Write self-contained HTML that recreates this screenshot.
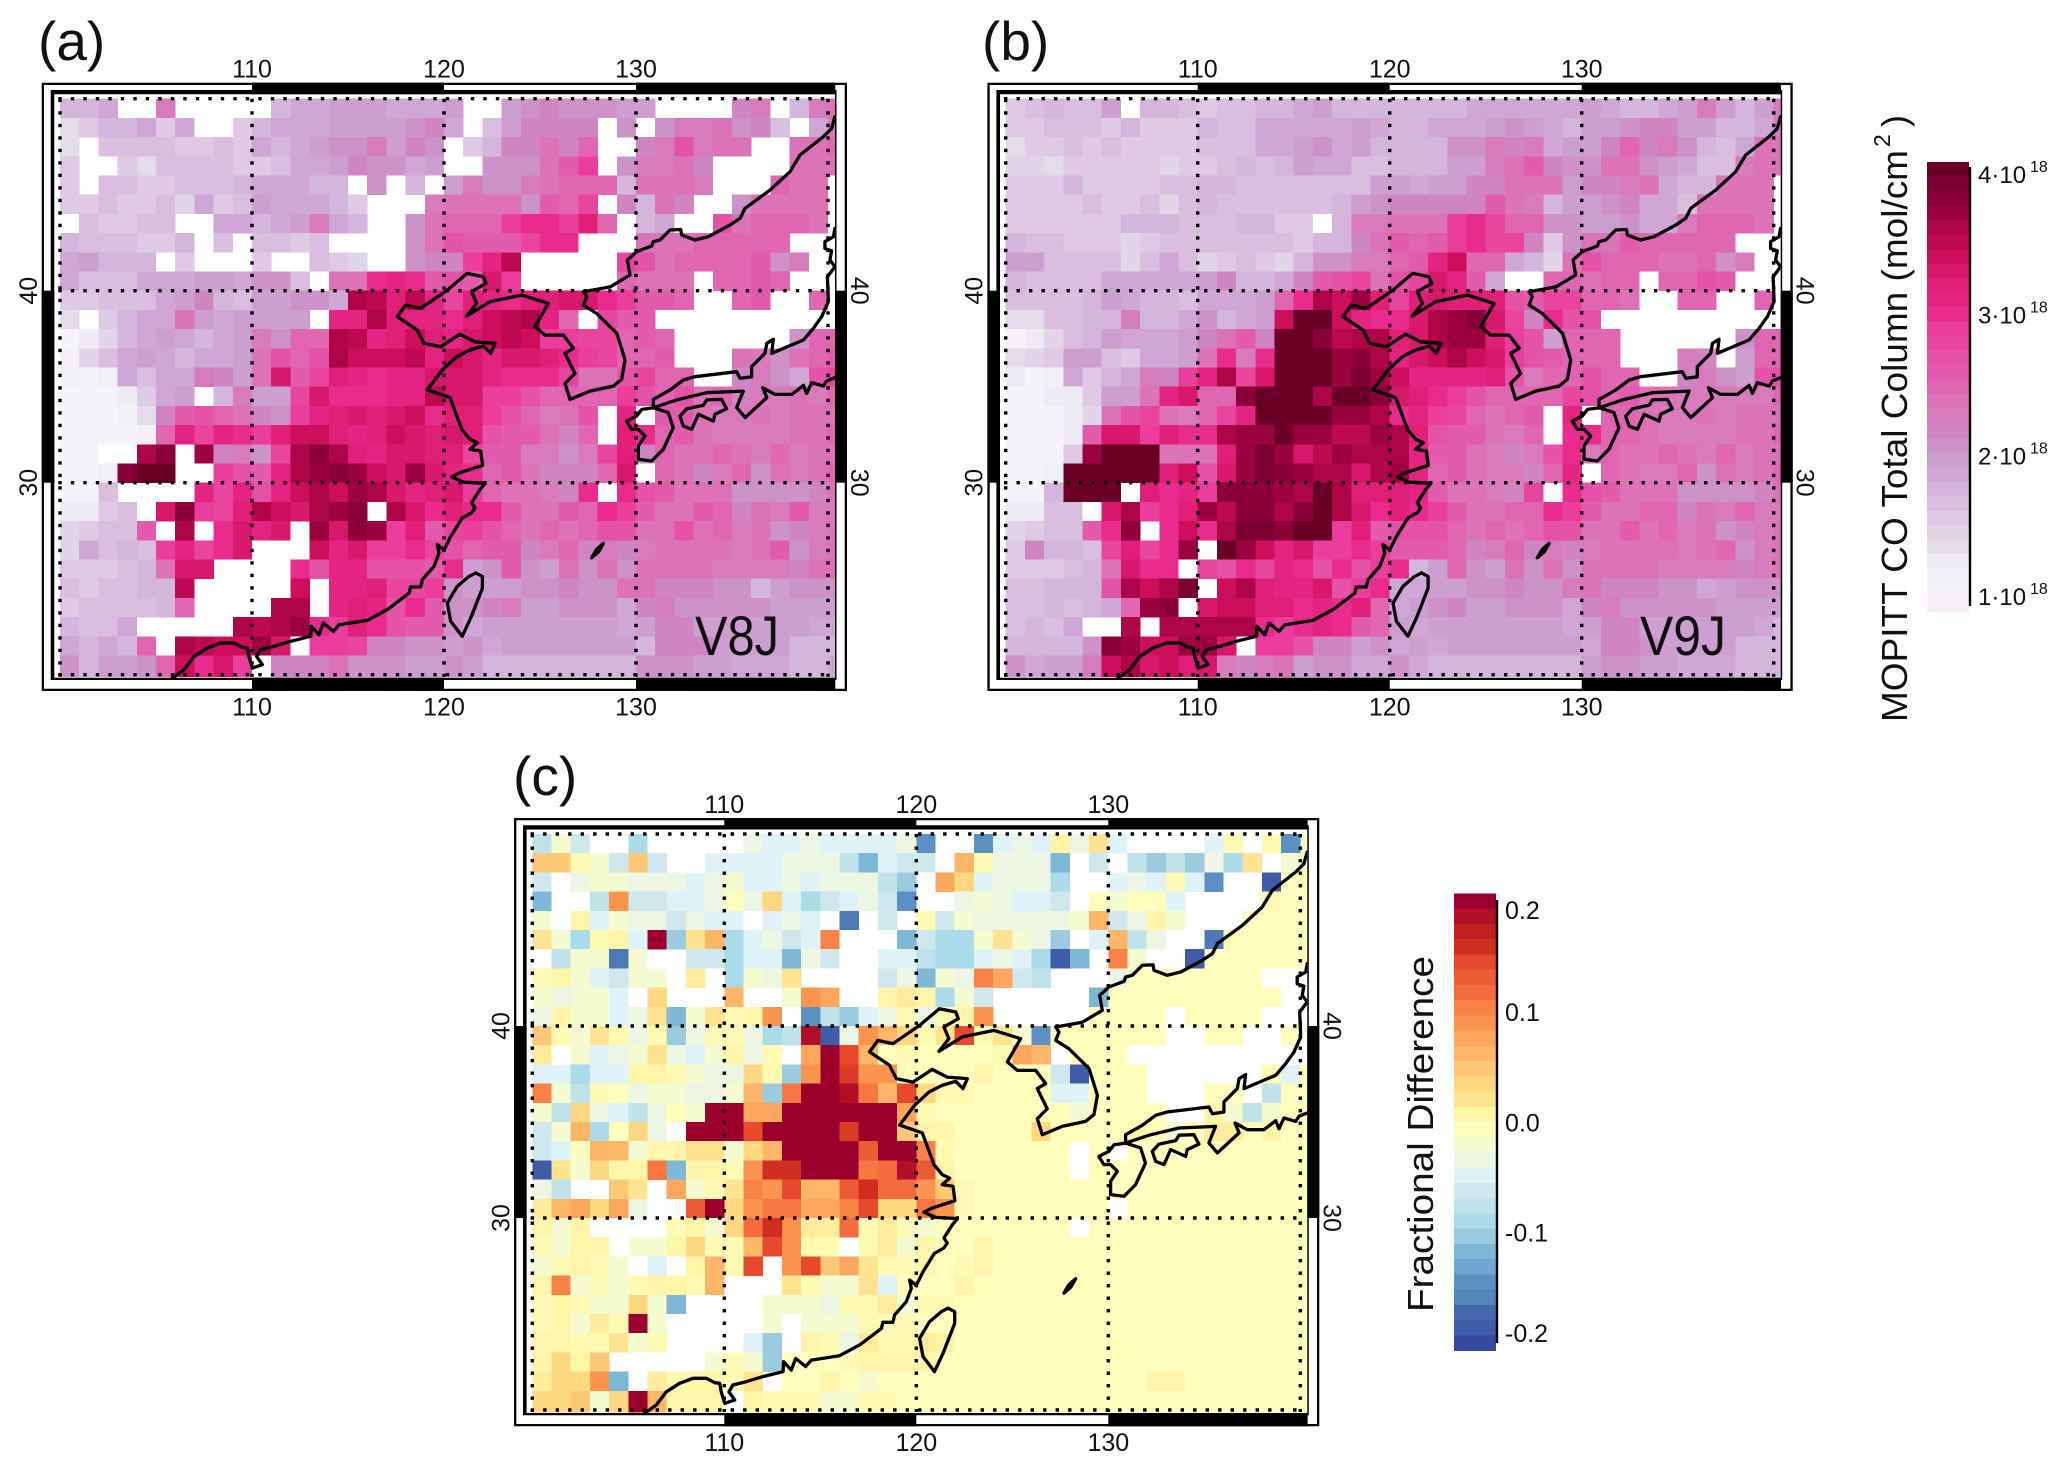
<!DOCTYPE html>
<html lang="en">
<head>
<meta charset="utf-8">
<title>MOPITT CO Total Column maps</title>
<style>
html,body{margin:0;padding:0;background:#fff;}
svg{display:block;font-family:"Liberation Sans",sans-serif;}
text{fill:#111;}
</style>
</head>
<body>
<svg id="figure" xmlns="http://www.w3.org/2000/svg" width="2067" height="1468" viewBox="0 0 2067 1468">
<rect x="0" y="0" width="2067" height="1468" fill="#ffffff"/>
<text x="38" y="60" font-size="55">(a)</text>
<text x="982" y="60" font-size="55">(b)</text>
<text x="513" y="795" font-size="55">(c)</text>
<g id="panels"></g>
<text x="695" y="655" font-size="56" textLength="84" lengthAdjust="spacingAndGlyphs">V8J</text>
<text x="1640" y="655" font-size="56" textLength="86" lengthAdjust="spacingAndGlyphs">V9J</text>
<g id="colorbar-column"></g>
<text transform="translate(1907,722) rotate(-90)" font-size="36" textLength="572" lengthAdjust="spacingAndGlyphs">MOPITT CO Total Column (mol/cm</text>
<text transform="translate(1890,147) rotate(-90)" font-size="23">2</text>
<text transform="translate(1907,127) rotate(-90)" font-size="36">)</text>
<g id="colorbar-diff"></g>
<text transform="translate(1433,1312) rotate(-90)" font-size="36" textLength="356" lengthAdjust="spacingAndGlyphs">Fractional Difference</text>
</svg>
<script>
const _ = null;
const lonTicks = [110, 120, 130];
const latTicks = [40, 30];
const gridLons = [100, 110, 120, 130, 140];
const gridLats = [50, 40, 30, 20];

/* CO total column, units of 1e17 mol/cm2; rows run from 50N southward, columns from 100E eastward */
const v8jValues = [
[18,18,19,_,_,23,_,_,_,_,_,18,19,19,20,20,20,19,19,19,20,_,_,20,21,22,21,21,21,20,20,_,_,_,_,22,23,_,18,23,24],
[14,16,18,18,19,16,19,_,_,16,18,19,19,19,20,20,20,20,21,22,19,_,17,20,22,22,22,22,_,21,_,21,23,23,24,21,22,17,_,19,23],
[14,_,17,17,17,17,16,16,17,16,19,18,19,20,21,21,23,20,22,21,_,16,18,22,22,24,22,25,_,_,22,23,27,23,24,24,_,_,24,24,25],
[16,_,_,16,14,17,17,17,17,16,16,17,19,19,20,22,21,21,19,20,_,_,21,21,21,24,26,29,_,21,23,23,24,22,_,_,_,_,24,24,24],
[16,_,17,17,16,16,17,17,17,18,19,19,19,18,18,_,21,_,18,_,20,23,21,21,23,24,25,25,25,18,24,24,24,23,_,_,_,25,24,24,_],
[16,16,17,16,16,17,15,19,16,17,20,19,19,19,18,16,_,_,_,23,24,24,24,24,21,26,25,28,_,22,18,24,22,_,_,21,24,24,24,24,_],
[_,17,16,16,17,17,_,_,19,19,18,19,20,23,19,18,_,_,21,24,25,25,25,29,30,30,29,32,25,_,18,19,_,_,27,24,25,25,25,24,_],
[18,17,17,17,16,16,18,_,17,_,17,17,16,17,_,_,_,_,21,24,27,26,26,26,28,30,30,_,_,_,24,24,24,25,25,25,25,25,_,_,_],
[19,20,18,18,18,_,16,_,_,_,16,_,_,17,16,15,_,_,21,22,22,29,31,35,_,_,_,_,_,28,27,24,25,25,25,25,26,21,23,_,_],
[19,17,17,17,19,19,19,20,20,19,21,21,17,_,24,24,30,31,30,26,27,26,33,29,_,_,_,_,_,25,24,24,24,_,25,25,26,25,_,_,_],
[16,16,17,17,17,19,20,22,18,17,20,20,21,21,19,36,35,32,35,31,28,32,31,30,32,32,33,33,30,29,26,26,25,_,_,25,26,_,_,25,_],
[14,_,16,18,19,19,24,20,19,20,20,20,20,_,31,31,36,32,31,31,30,32,34,35,36,31,25,_,28,26,26,_,_,_,_,_,_,_,_,_,_],
[11,13,15,18,19,20,19,18,19,20,23,21,25,25,36,35,31,32,34,32,31,33,34,35,34,29,29,28,28,25,26,25,_,_,_,_,_,_,21,25,25],
[12,15,17,19,20,19,18,19,19,20,24,27,25,27,36,34,34,34,35,31,34,33,31,33,33,32,30,29,28,25,25,26,_,_,_,24,23,21,24,25,26],
[12,11,12,19,17,19,19,23,22,20,24,33,26,28,32,31,30,31,31,33,33,33,31,30,30,30,28,24,24,27,28,25,25,_,_,22,23,21,19,27,28],
[11,11,11,13,16,19,20,_,18,23,20,20,28,33,30,30,30,31,31,35,33,33,29,29,27,25,25,25,25,29,27,25,27,24,25,22,23,23,24,23,25],
[11,11,11,12,14,22,26,27,25,24,22,21,29,31,32,33,32,33,34,30,32,32,29,27,25,23,24,27,_,31,_,26,26,24,23,23,24,23,24,24,24],
[11,11,11,11,12,25,31,28,31,30,29,32,34,34,32,31,32,34,33,32,33,32,27,26,26,24,22,25,_,32,30,25,26,24,23,23,23,23,24,24,25],
[11,11,_,_,36,38,_,37,22,23,21,28,36,38,36,32,31,33,33,32,32,28,26,26,23,23,21,23,28,32,22,25,24,24,25,24,23,25,23,24,24],
[11,11,12,38,40,40,_,_,29,27,26,31,36,37,38,37,34,33,37,33,31,30,25,26,24,22,22,22,25,33,_,25,24,22,23,25,21,24,23,24,25],
[11,11,17,_,_,_,_,31,28,31,27,31,34,36,34,37,36,33,31,32,33,29,25,24,24,23,22,30,_,30,27,26,24,24,24,21,21,21,21,22,24],
[13,13,16,17,_,33,38,29,28,32,36,34,33,36,37,38,_,36,33,30,32,30,30,26,24,24,26,25,30,29,26,24,24,26,25,22,24,23,26,23,23],
[15,16,17,17,26,_,36,_,30,33,31,33,_,37,33,38,37,29,32,26,28,29,27,25,24,25,24,25,27,27,24,24,27,24,25,23,24,21,22,23,24],
[15,19,17,18,17,29,31,28,30,33,_,_,_,34,31,33,29,29,30,28,27,25,26,26,22,23,25,22,23,22,23,24,24,24,24,23,24,26,21,23,24],
[16,16,16,17,18,24,33,33,_,_,_,_,30,27,31,31,27,27,27,26,30,20,21,26,21,20,24,21,24,21,24,24,24,24,23,23,23,23,22,24,24],
[17,16,17,17,18,18,35,_,_,_,_,_,34,_,31,31,32,28,28,29,21,20,20,20,21,21,22,21,21,24,24,22,22,22,21,21,18,20,21,21,21],
[16,17,17,17,17,18,25,_,_,_,_,36,36,_,31,32,31,27,30,26,21,21,22,23,20,20,21,21,21,19,22,23,21,21,21,21,21,20,20,20,20],
[18,17,17,19,_,_,_,_,_,36,35,36,37,30,29,32,30,27,26,26,21,19,20,20,20,20,20,20,20,19,20,22,22,20,20,20,20,20,20,19,19],
[19,18,19,18,25,_,36,35,34,34,37,33,_,29,29,28,22,22,21,21,20,21,19,20,20,20,20,20,20,20,18,22,22,22,20,20,20,20,18,18,18],
[21,18,20,20,21,25,34,30,33,29,_,22,22,22,24,21,21,21,20,20,21,20,18,18,18,18,18,18,18,18,21,21,21,20,20,19,19,19,18,18,19]
];

const v9jValues = [
[16,17,18,17,17,20,_,18,18,17,16,17,17,18,18,19,20,18,18,18,18,18,18,18,19,19,19,19,19,19,20,19,18,18,19,20,23,20,18,20,23],
[16,16,17,17,17,16,18,16,16,16,18,17,17,19,19,19,19,19,20,19,18,18,19,19,19,20,21,20,19,18,20,20,21,22,22,20,20,18,18,19,23],
[14,16,16,17,16,17,16,16,16,16,17,17,17,19,19,20,21,19,20,18,18,18,18,21,21,23,22,23,19,20,20,22,25,22,23,21,18,17,19,24,24],
[15,15,14,16,16,16,16,16,15,16,16,17,18,17,18,20,19,19,17,17,18,18,18,20,20,23,24,26,22,21,21,24,24,21,20,19,17,17,23,24,24],
[16,16,16,18,16,16,16,16,17,17,18,18,17,17,17,17,17,17,17,20,20,19,20,20,22,22,24,24,24,20,22,22,23,24,19,18,18,24,24,24,_],
[16,16,16,16,17,16,16,17,15,17,18,17,17,17,17,17,17,18,20,21,22,22,22,22,22,26,24,23,18,20,20,21,22,19,19,17,24,24,24,24,_],
[16,16,16,16,16,16,18,18,18,17,17,17,18,18,16,16,_,18,23,23,24,24,24,29,30,28,25,25,21,21,20,20,21,19,19,23,25,25,25,24,_],
[18,17,17,16,16,16,15,16,17,17,17,17,17,17,17,16,18,18,22,24,26,25,26,29,30,28,28,22,16,21,24,24,26,25,25,25,25,25,_,_,_],
[20,20,17,17,17,17,15,17,19,17,15,16,17,16,15,18,21,21,23,23,25,26,31,34,25,25,19,18,15,24,27,25,25,25,24,24,25,21,23,_,_],
[18,17,17,17,17,19,19,19,19,19,20,22,18,18,19,22,26,27,28,24,27,28,33,31,26,19,_,_,25,25,24,25,25,_,25,25,27,26,_,_,_],
[17,17,17,17,18,20,19,18,18,17,19,19,19,20,25,30,36,34,37,32,28,32,33,32,32,32,27,26,28,28,25,25,24,_,_,25,25,_,_,25,_],
[14,14,17,17,18,18,23,18,18,19,21,18,19,20,34,40,40,34,31,30,30,33,36,37,38,33,28,22,30,27,27,_,_,_,_,_,_,_,_,_,_],
[11,13,15,17,18,20,19,19,19,20,22,24,26,22,40,40,38,35,36,36,32,33,36,37,37,32,29,27,20,25,25,25,_,_,_,_,_,_,21,25,25],
[14,15,16,20,20,17,16,19,19,20,24,30,23,30,40,40,40,37,38,36,31,33,34,36,34,33,29,27,26,25,25,25,_,_,_,23,22,_,20,25,25],
[13,11,12,19,16,18,19,23,22,29,31,36,28,33,40,40,40,37,39,37,34,31,31,31,31,32,27,23,25,25,27,25,25,_,_,22,23,21,20,27,27],
[11,11,13,13,16,20,20,24,31,33,25,25,38,40,40,40,36,40,40,38,33,32,30,29,27,25,25,25,25,28,27,25,26,24,24,23,23,23,23,23,25],
[11,11,11,13,15,24,27,28,24,23,25,28,31,40,40,40,40,37,37,36,30,31,29,28,25,24,25,26,_,31,_,25,25,24,23,23,24,23,24,24,24],
[11,11,11,13,26,33,33,29,32,30,30,36,37,37,40,37,37,35,35,37,36,32,27,26,26,24,23,25,_,30,30,25,25,24,23,23,23,23,24,24,25],
[11,11,11,16,37,40,40,40,24,24,24,32,37,39,37,33,35,37,36,36,36,31,26,26,24,23,22,23,27,30,23,25,24,24,25,24,23,25,23,24,24],
[11,11,12,40,40,40,40,40,32,34,27,33,37,39,38,37,36,36,33,36,37,31,25,26,24,23,23,22,25,31,_,25,24,23,23,25,21,24,23,24,25],
[11,11,18,40,40,40,_,32,30,31,29,38,38,38,37,36,40,36,32,32,32,31,26,24,24,23,22,28,_,30,27,26,24,24,24,21,21,21,21,22,24],
[13,13,17,17,_,33,36,29,30,32,37,35,38,38,36,38,40,36,33,30,32,30,29,26,24,24,25,25,30,29,26,24,24,25,25,22,24,23,25,23,23],
[15,16,17,17,26,30,38,_,30,34,30,36,39,39,38,40,40,29,32,26,27,27,27,25,24,25,24,25,27,27,24,24,26,24,25,23,24,21,22,23,24],
[16,22,18,18,17,28,32,28,30,37,_,40,37,34,31,33,29,29,30,29,26,26,26,25,22,23,25,22,23,22,23,24,24,24,24,23,24,25,21,23,24],
[16,16,16,17,18,24,33,30,30,_,28,27,30,28,31,30,27,30,27,29,30,18,20,25,21,20,24,21,24,21,24,24,24,24,23,23,23,23,22,23,24],
[17,17,18,18,18,27,36,34,36,39,_,34,36,32,31,31,33,27,29,30,19,19,20,20,21,21,22,21,21,23,24,22,22,22,21,21,19,20,21,21,21],
[17,17,18,17,18,19,25,37,38,_,33,34,34,32,32,30,31,30,32,25,19,20,21,22,20,20,21,21,21,19,22,23,21,21,21,21,21,20,20,20,20],
[17,18,17,19,_,_,36,_,36,36,36,36,36,30,29,30,31,30,26,25,20,19,20,20,20,20,20,20,20,19,20,22,22,20,20,20,20,20,20,19,18],
[18,18,18,18,21,38,37,34,34,37,37,33,_,29,29,27,22,22,20,21,19,20,19,20,20,20,20,20,20,20,19,22,22,21,20,20,20,20,18,18,18],
[21,19,20,20,23,34,36,33,34,32,33,23,22,23,24,20,21,21,19,19,21,19,18,18,18,18,18,18,18,18,20,21,21,20,20,19,19,19,18,18,18]
];

/* fractional difference, in percent */
const diffValues = [
[-6,-1,-5,_,_,-7,_,_,_,_,_,-2,-4,-4,-2,-4,-4,-4,-4,-2,-15,_,_,-15,-4,-2,-4,2,-2,4,-4,_,_,_,_,-4,1,_,1,-15,-1],
[6,6,1,-1,-5,6,-5,_,_,-4,-4,-4,-4,-2,-2,-2,-6,-11,-4,-5,-5,_,7,1,-2,-2,-2,-11,_,-5,_,-6,-9,-6,-9,-2,-7,4,_,-1,0],
[-5,_,-2,-1,-1,-2,-2,-2,-4,-2,-1,-4,-4,-2,-4,-2,-2,-2,-6,-9,_,8,5,-4,-2,-2,-2,-7,_,_,-4,-2,-4,1,-4,-15,_,_,-19,0,0],
[-11,_,_,-6,9,-5,-5,-4,-4,-2,0,-2,5,-4,-7,-5,-4,-2,-5,-15,_,_,-2,-1,-2,-4,-4,-5,_,0,-1,0,0,-4,_,_,_,_,1,0,0],
[-1,_,2,-4,-1,-2,-2,-5,-2,-4,-4,_,-4,-2,-4,_,-17,_,-5,_,1,-5,-1,-2,-2,-2,-2,-2,-1,7,-5,-2,2,-1,_,_,_,0,0,0,0],
[4,-1,-7,1,2,-4,20,-9,4,7,-7,-4,-2,-5,-4,10,_,_,_,-11,-5,-7,-7,-1,4,-1,-2,-9,_,-4,7,-6,-2,_,_,-17,0,0,0,0,0],
[_,-6,-1,-1,-17,-1,_,_,-5,-5,-7,-4,-4,-11,-2,-5,_,_,-4,-4,-6,-7,-7,-4,-2,-4,-7,-19,-11,_,10,-1,_,_,-19,0,0,0,0,0,0],
[1,2,-1,-4,-5,-1,-1,_,3,_,-7,-1,-2,4,_,_,_,_,-5,-2,-11,-1,-2,10,8,-5,-6,_,_,_,-2,0,0,0,0,0,0,0,_,_,_],
[-1,-2,-1,-1,-4,_,5,_,_,_,7,_,_,-1,9,8,_,_,2,3,2,-7,-1,-5,_,_,_,_,_,-11,0,0,0,0,0,0,0,0,0,_,_],
[-2,2,-1,-1,-4,-2,4,-11,-1,4,1,2,9,_,-15,-6,-9,-4,-2,1,-2,1,2,9,_,_,_,_,_,0,0,0,0,_,0,0,0,0,_,_,_],
[6,1,-1,4,1,-2,1,-9,-2,1,1,-2,-7,-6,18,-19,-2,9,7,5,1,4,14,1,4,-1,-15,0,0,0,0,0,0,_,_,0,0,_,_,0,_],
[3,_,-1,-4,-2,-1,4,-2,-4,-1,2,-2,1,_,8,20,14,7,0,1,0,0,0,0,1,8,7,_,0,0,0,_,_,_,_,_,_,_,_,_,_],
[-4,-4,-7,-4,-4,2,2,1,-1,-2,-2,5,1,-9,9,20,15,9,9,0,0,0,0,2,0,0,0,-5,-19,0,0,0,_,_,_,_,_,_,1,-4,0],
[10,-1,-6,1,0,-2,-1,-1,-2,-2,-1,7,-9,11,20,20,18,11,7,14,5,1,1,0,0,0,0,-4,-4,0,0,0,_,_,_,0,0,_,-6,0,0],
[-1,-6,5,-2,-4,-6,-2,0,-1,20,20,8,8,20,20,20,20,20,20,8,1,0,0,0,0,0,0,0,-1,0,0,0,0,_,_,2,-1,-6,-1,0,0],
[-5,-1,7,-7,0,5,-2,_,20,20,20,14,20,20,20,20,15,20,20,6,2,2,0,0,0,0,5,0,0,0,0,2,0,-1,0,3,3,0,2,0,0],
[-5,-4,0,7,7,-1,2,2,4,4,-1,5,7,20,20,20,20,13,20,20,10,1,0,0,0,0,0,0,_,0,_,0,0,0,0,0,0,0,0,0,0],
[-19,4,-1,5,2,2,11,-11,2,2,1,9,16,16,20,20,20,11,12,18,13,2,0,0,0,0,0,0,_,0,0,0,0,0,0,0,0,0,0,0,0],
[-2,-6,_,_,6,4,_,8,-1,1,4,10,9,14,7,7,13,16,12,12,9,6,1,0,0,0,0,0,0,0,0,0,0,0,0,0,0,0,0,0,0],
[3,7,8,5,8,-2,_,_,13,20,5,9,11,11,8,8,10,14,5,5,11,9,1,0,0,0,0,0,0,0,_,0,0,0,0,0,0,0,0,0,0],
[2,-1,2,_,_,_,_,1,2,-1,5,12,16,9,3,3,12,1,3,1,-1,0,0,0,0,0,0,0,_,0,0,0,0,0,0,0,0,0,0,0,0],
[1,-1,2,2,_,-1,-1,2,5,1,1,7,14,9,1,1,_,1,3,-1,2,0,0,2,0,0,0,0,0,0,0,0,0,0,0,0,0,0,0,0,0],
[-1,1,2,1,-1,_,-4,_,2,7,1,14,_,9,14,6,8,4,1,1,2,0,1,2,0,0,0,0,0,0,0,0,0,0,0,0,0,0,0,0,0],
[2,10,-1,1,-1,1,2,2,1,7,_,_,_,4,1,-1,-1,4,-4,0,0,0,2,0,0,0,0,0,0,0,0,0,0,0,0,0,0,0,0,0,0],
[1,2,1,-1,-1,5,-1,-11,_,_,_,_,-1,-1,-1,-2,1,1,3,-1,1,1,0,0,0,0,0,0,0,0,0,0,0,0,0,0,0,0,0,0,0],
[1,2,-1,3,1,20,-1,_,_,_,_,_,-1,_,-1,-1,-1,1,1,1,0,0,0,0,0,0,0,0,0,0,0,0,0,0,0,0,0,0,0,0,0],
[2,2,1,1,4,-1,1,_,_,_,_,-4,-9,_,2,1,-2,3,1,1,3,2,0,0,0,0,0,0,0,0,0,0,0,0,0,0,0,0,0,0,0],
[2,5,2,6,_,_,_,_,_,-1,1,-1,-9,0,0,0,1,2,2,2,2,0,0,0,0,0,0,0,0,0,0,0,0,0,0,0,0,0,0,0,0],
[3,5,5,9,-11,_,3,1,2,2,1,4,_,0,0,2,0,-1,0,0,0,0,0,0,0,0,0,0,0,0,0,0,2,2,0,0,0,0,0,0,0],
[5,5,6,-1,5,20,7,2,2,2,_,2,1,1,1,-1,-1,1,1,0,0,0,0,0,0,0,0,0,0,0,0,0,0,0,0,0,0,0,0,0,0]
];

const columnPalette = ["#f8f0f6","#f6f3fa","#f2eff7","#eeebf5","#e3dcea","#e2d5e8","#dfc9e4","#d9bedf","#d4b5dc","#cfa6d6","#cd9fd0","#cd93c9","#d085c3","#d87bbd","#dc73b6","#e066b1","#e25bac","#e553a8","#e8459f","#ea3d9c","#e92b8e","#e42483","#df1f78","#d8186c","#cc0e5d","#bd0952","#ad0548","#9d0240","#8c003a","#7a002f","#6a0025"];
const diffPalette = ["#36499e","#3e5ca8","#4669ae","#4e79b7","#5485bd","#5b90c2","#659ac8","#72a5cf","#78aed3","#7fb7d7","#8dc1db","#9ccbe0","#a4d2e4","#abdae8","#c0e3ea","#cfe8ee","#def2f7","#e6f4ee","#edf5e3","#f5fbd0","#fffebd","#fffab3","#fff5a9","#feeb9b","#fee490","#fdd881","#fdc876","#fdb567","#fca75d","#fc9450","#f98346","#f77743","#f46b3f","#ed5a36","#e6492d","#dc3b28","#d12e22","#c11f24","#b21028","#a5062c","#9b002c"];

const columnBarLevels = [40,39,38,37,36,35,34,33,32,31,30,29,28,27,26,25,24,23,22,21,20,19,18,17,16,15,14,13,12,11,10];
const diffBarLevels = [20,18,17,16,14,13,12,10,9,8,7,6,5,4,2,0,-1,-2,-4,-5,-6,-7,-9,-11,-13,-15,-16,-18,-19,-20];
const columnTickMantissas = ["4","3","2","1"];
const diffTickLabels = ["0.2","0.1","0.0","-0.1","-0.2"];

/* coastlines as [longitude, latitude] */
const coastMainland = [[105.85,19.83],[106.46,20.26],[106.98,20.95],[107.67,21.39],[108.37,21.65],[109.06,21.65],[109.5,21.42],[109.76,21.39],[109.84,20.95],[110.02,20.35],[110.54,20.52],[110.24,20.95],[110.45,21.3],[111.15,21.48],[112.01,21.74],[113.06,22.0],[113.09,22.52],[113.49,22.08],[113.72,22.69],[114.24,22.26],[114.53,22.6],[116.0,22.83],[117.05,23.39],[118.18,24.25],[118.26,24.57],[118.78,24.57],[118.87,24.95],[119.48,25.64],[119.74,26.34],[119.65,26.77],[120.0,26.5],[120.35,27.2],[120.95,28.16],[121.44,28.44],[121.61,28.7],[121.44,28.96],[121.88,29.65],[122.14,29.97],[121.0,30.03],[120.4,30.3],[120.83,30.52],[122.01,30.9],[121.91,31.65],[121.35,31.74],[121.74,32.08],[121.35,32.26],[120.92,32.78],[120.31,34.43],[119.13,34.84],[119.91,35.87],[120.66,36.56],[121.35,36.91],[122.05,37.12],[122.43,36.74],[122.66,37.26],[121.61,37.34],[120.83,37.74],[119.83,37.08],[118.96,37.26],[118.61,37.95],[117.57,38.65],[118.0,39.25],[118.78,39.08],[120.17,40.03],[121.2,40.9],[122.05,40.73],[122.19,40.38],[121.44,39.95],[121.7,39.34],[121.18,38.68],[122.4,39.43],[124.05,39.77],[125.43,39.34],[124.74,38.13],[125.26,37.69],[126.22,37.69],[126.74,37.0],[126.3,36.74],[126.82,35.69],[126.3,35.17],[126.56,34.34],[127.6,34.77],[128.82,35.03],[129.25,35.38],[129.43,36.39],[129.0,37.78],[127.95,38.82],[127.26,39.25],[127.43,39.69],[127.26,39.95],[128.65,40.2],[129.69,40.82],[129.55,41.6],[130.03,42.03],[130.82,42.33],[130.9,42.55],[131.25,42.64],[131.77,43.16],[132.33,43.19],[132.38,42.9],[133.07,42.64],[133.77,42.81],[134.9,43.42],[135.42,43.77],[135.68,44.29],[136.98,45.24],[138.02,46.2],[138.54,47.07],[139.76,48.02],[140.19,48.45],[140.36,49.06]];
const coastHonshu = [[140.36,43.25],[140.28,42.81],[139.84,42.55],[139.84,42.2],[140.19,42.08],[140.1,41.6],[140.36,41.25],[139.97,40.73],[140.02,39.43],[139.67,38.65],[139.24,38.04],[138.72,37.43],[137.07,36.74],[137.15,37.47],[136.81,37.26],[136.72,36.74],[136.02,36.04],[136.02,35.52],[135.42,35.43],[135.24,35.78],[133.07,35.52],[132.47,35.35],[131.77,34.83],[130.9,34.34],[130.9,33.9],[132.12,34.31],[133.68,34.69],[135.59,34.77],[135.24,33.91],[135.68,33.39],[136.81,34.43],[136.6,34.95],[137.24,34.6],[138.11,34.6],[138.72,35.07],[138.89,34.65],[139.15,35.21],[139.76,35.03],[139.93,35.3],[140.36,35.47]];
const coastShikoku = [[132.29,33.47],[132.64,33.85],[133.51,34.03],[133.68,34.31],[134.46,34.34],[134.72,33.85],[134.11,33.56],[134.03,33.21],[133.25,33.56],[132.9,32.78],[132.47,32.95],[132.29,33.47]];
const coastKyushu = [[130.9,33.9],[131.68,33.65],[131.94,32.86],[131.42,31.74],[130.82,31.13],[130.12,31.22],[130.12,31.91],[130.47,32.43],[130.12,32.78],[129.77,32.78],[129.51,33.21],[130.03,33.47],[130.3,33.82],[130.9,33.9]];
const coastTaiwan = [[121.65,25.3],[122.0,25.12],[122.0,24.51],[121.39,22.95],[120.95,22.0],[120.35,22.78],[120.17,23.73],[120.69,24.6],[121.3,25.12],[121.65,25.3]];
const coastOkinawa = [[127.69,26.09],[127.95,26.53],[128.3,26.84],[128.05,26.4],[127.69,26.09]];

const SVGNS = "http://www.w3.org/2000/svg";
const DEG = 19.2;

function lonToX(lon, ox) { return ox + (lon - 100) * DEG; }
function latToY(lat, oy) { return oy + (50 - lat) * DEG; }
function columnColor(v) { return columnPalette[Math.max(0, Math.min(30, Math.round(v) - 10))]; }
function diffColor(v) { return diffPalette[Math.max(0, Math.min(40, Math.round(v) + 20))]; }

function make(tag, attrs, parent) {
  const el = document.createElementNS(SVGNS, tag);
  for (const k in attrs) el.setAttribute(k, attrs[k]);
  parent.appendChild(el);
  return el;
}

function drawFrame(g, ox, oy) {
  const L = ox - 18.3, R = ox + 787, T = oy - 16, B = oy + 592.3;
  const frame = make("g", {}, g);
  
  
  const holes = make("path", {
    d: "M" + L + " " + T + "H" + R + "V" + B + "H" + L + "Z" +
       "M" + (L + 2.3) + " " + (T + 2.3) + "V" + (B - 2.3) + "H" + (R - 2.3) + "V" + (T + 2.3) + "Z" +
       "M" + (ox - 9.3) + " " + (oy - 8.7) + "H" + (ox + 776.5) + "V" + (oy + 581.3) + "H" + (ox - 9.3) + "Z" +
       "M" + (ox - 5.7) + " " + (oy - 4.5) + "V" + (oy + 579) + "H" + (ox + 775) + "V" + (oy - 4.5) + "Z",
    fill: "#000"
  }, frame);
  
  
  const bandSpans = [[110, 120], [130, 140.38]];
  bandSpans.forEach(function (s) {
    const xa = lonToX(s[0], ox), xb = lonToX(s[1], ox);
    const top = make("rect", { x: xa, y: T, width: xb - xa, height: 11.5, fill: "#000" }, frame);
    
    
    const bot = make("rect", { x: xa, y: oy + 579, width: xb - xa, height: 13.3, fill: "#000" }, frame);
    
    
  });
  const ya = latToY(40, oy), yb = latToY(30, oy);
  const lb = make("rect", { x: L, y: ya, width: 12.6, height: yb - ya, fill: "#000" }, frame);
  
  
  const rb = make("rect", { x: ox + 775, y: ya, width: 12, height: yb - ya, fill: "#000" }, frame);
  
  
}

function drawCoast(g, pts, ox, oy, width, fill) {
  const d = pts.map(function (p, i) {
    return (i ? "L" : "M") + lonToX(p[0], ox).toFixed(1) + " " + latToY(p[1], oy).toFixed(1);
  }).join("");
  const path = make("path", { d: d, fill: fill, stroke: "#000", "stroke-width": width, "stroke-linejoin": "round", "stroke-linecap": "round" }, g);
  
  
}

function drawPanel(key, ox, oy, values, colorFn) {
  const root = document.getElementById("panels");
  const g = make("g", {}, root);
  
  

  const clipId = key + "-clip";
  const clip = make("clipPath", { id: clipId }, g);
  make("rect", { x: ox - 2, y: oy - 2, width: 777, height: 581 }, clip);

  const cells = make("g", { "clip-path": "url(#" + clipId + ")", "shape-rendering": "crispEdges" }, g);
  
  
  values.forEach(function (row, r) {
    row.forEach(function (v, c) {
      if (v === null) return;
      const x0 = lonToX(100 + c, ox), y0 = latToY(50 - r, oy);
      const rect = make("rect", {
        x: x0.toFixed(2), y: y0.toFixed(2),
        width: (DEG + 0.2).toFixed(2),
        height: (r === values.length - 1 ? DEG + 2.5 : DEG + 0.2).toFixed(2),
        fill: colorFn(v)
      }, cells);
      
      
    });
  });

  const grid = make("g", { stroke: "#000", "stroke-width": 3.4, "stroke-dasharray": "3.4 9.1" }, g);
  
  
  gridLons.forEach(function (lon) {
    const x = lonToX(lon, ox);
    const line = make("line", { x1: x, x2: x, y1: latToY(50, oy), y2: latToY(20, oy) + 2 }, grid);
    
    
  });
  gridLats.forEach(function (lat) {
    const y = latToY(lat, oy);
    const line = make("line", { x1: lonToX(100, ox) - 1.7, x2: lonToX(140, ox) + 2, y1: y, y2: y }, grid);
    
    
  });

  const coast = make("g", { "clip-path": "url(#" + clipId + "b)" }, g);
  
  
  const clipB = make("clipPath", { id: clipId + "b" }, g);
  make("rect", { x: ox - 2, y: oy - 2, width: 777, height: 586 }, clipB);
  [coastMainland, coastHonshu, coastShikoku, coastKyushu, coastTaiwan].forEach(function (pts) {
    drawCoast(coast, pts, ox, oy, 3.3, "none");
  });
  drawCoast(coast, coastOkinawa, ox, oy, 3.3, "#000");

  drawFrame(g, ox, oy);

  lonTicks.forEach(function (lon) {
    const x = lonToX(lon, ox);
    const t1 = make("text", { x: x, y: oy - 21, "font-size": 25, "text-anchor": "middle" }, g);
    t1.textContent = lon;
    
    
    const t2 = make("text", { x: x, y: oy + 617, "font-size": 25, "text-anchor": "middle" }, g);
    t2.textContent = lon;
    
    
  });
  latTicks.forEach(function (lat) {
    const y = latToY(lat, oy);
    const t1 = make("text", { transform: "translate(" + (ox - 23) + "," + y + ") rotate(-90)", "font-size": 25, "text-anchor": "middle" }, g);
    t1.textContent = lat;
    
    
    const t2 = make("text", { transform: "translate(" + (ox + 791) + "," + y + ") rotate(90)", "font-size": 25, "text-anchor": "middle" }, g);
    t2.textContent = lat;
    
    
  });
}

function drawColorbars() {
  const colG = document.getElementById("colorbar-column");
  const colTop = 162, colBottom = 612;
  const colH = (colBottom - colTop) / columnBarLevels.length;
  columnBarLevels.forEach(function (v, i) {
    const rect = make("rect", { x: 1927, y: (colTop + i * colH).toFixed(2), width: 42, height: (colH + 0.3).toFixed(2), fill: columnColor(v), "shape-rendering": "crispEdges" }, colG);
    
    
  });
  const colAxis = make("line", { x1: 1970, x2: 1970, y1: 167, y2: 606, stroke: "#000", "stroke-width": 2.4 }, colG);
  
  
  columnTickMantissas.forEach(function (m, i) {
    const base = 183 + i * (605 - 183) / (columnTickMantissas.length - 1);
    const t = make("text", { x: 1978, y: base, "font-size": 24 }, colG);
    t.textContent = m + "\u00b710";
    
    
    const s = make("text", { x: 2030, y: base - 11, "font-size": 16 }, colG);
    s.textContent = "18";
    
    
  });

  const difG = document.getElementById("colorbar-diff");
  const difTop = 893.3, difBottom = 1350.7;
  const difH = (difBottom - difTop) / diffBarLevels.length;
  diffBarLevels.forEach(function (v, i) {
    const rect = make("rect", { x: 1454, y: (difTop + i * difH).toFixed(2), width: 42, height: (difH + 0.3).toFixed(2), fill: diffColor(v), "shape-rendering": "crispEdges" }, difG);
    
    
  });
  const difAxis = make("line", { x1: 1497, x2: 1497, y1: 900, y2: 1343, stroke: "#000", "stroke-width": 2.4 }, difG);
  
  
  const labelNudge = [0, -4, 1, 5, 0];
  diffTickLabels.forEach(function (label, i) {
    const base = 919 + i * (1342 - 919) / (diffTickLabels.length - 1) + labelNudge[i];
    const t = make("text", { x: 1505, y: base, "font-size": 25 }, difG);
    t.textContent = label;
    
    
  });
}

drawPanel("v8j", 60, 98.7, v8jValues, columnColor);
drawPanel("v9j", 1005.7, 98.7, v9jValues, columnColor);
drawPanel("difference", 532.3, 834, diffValues, diffColor);
drawColorbars();
</script>
</body>
</html>
